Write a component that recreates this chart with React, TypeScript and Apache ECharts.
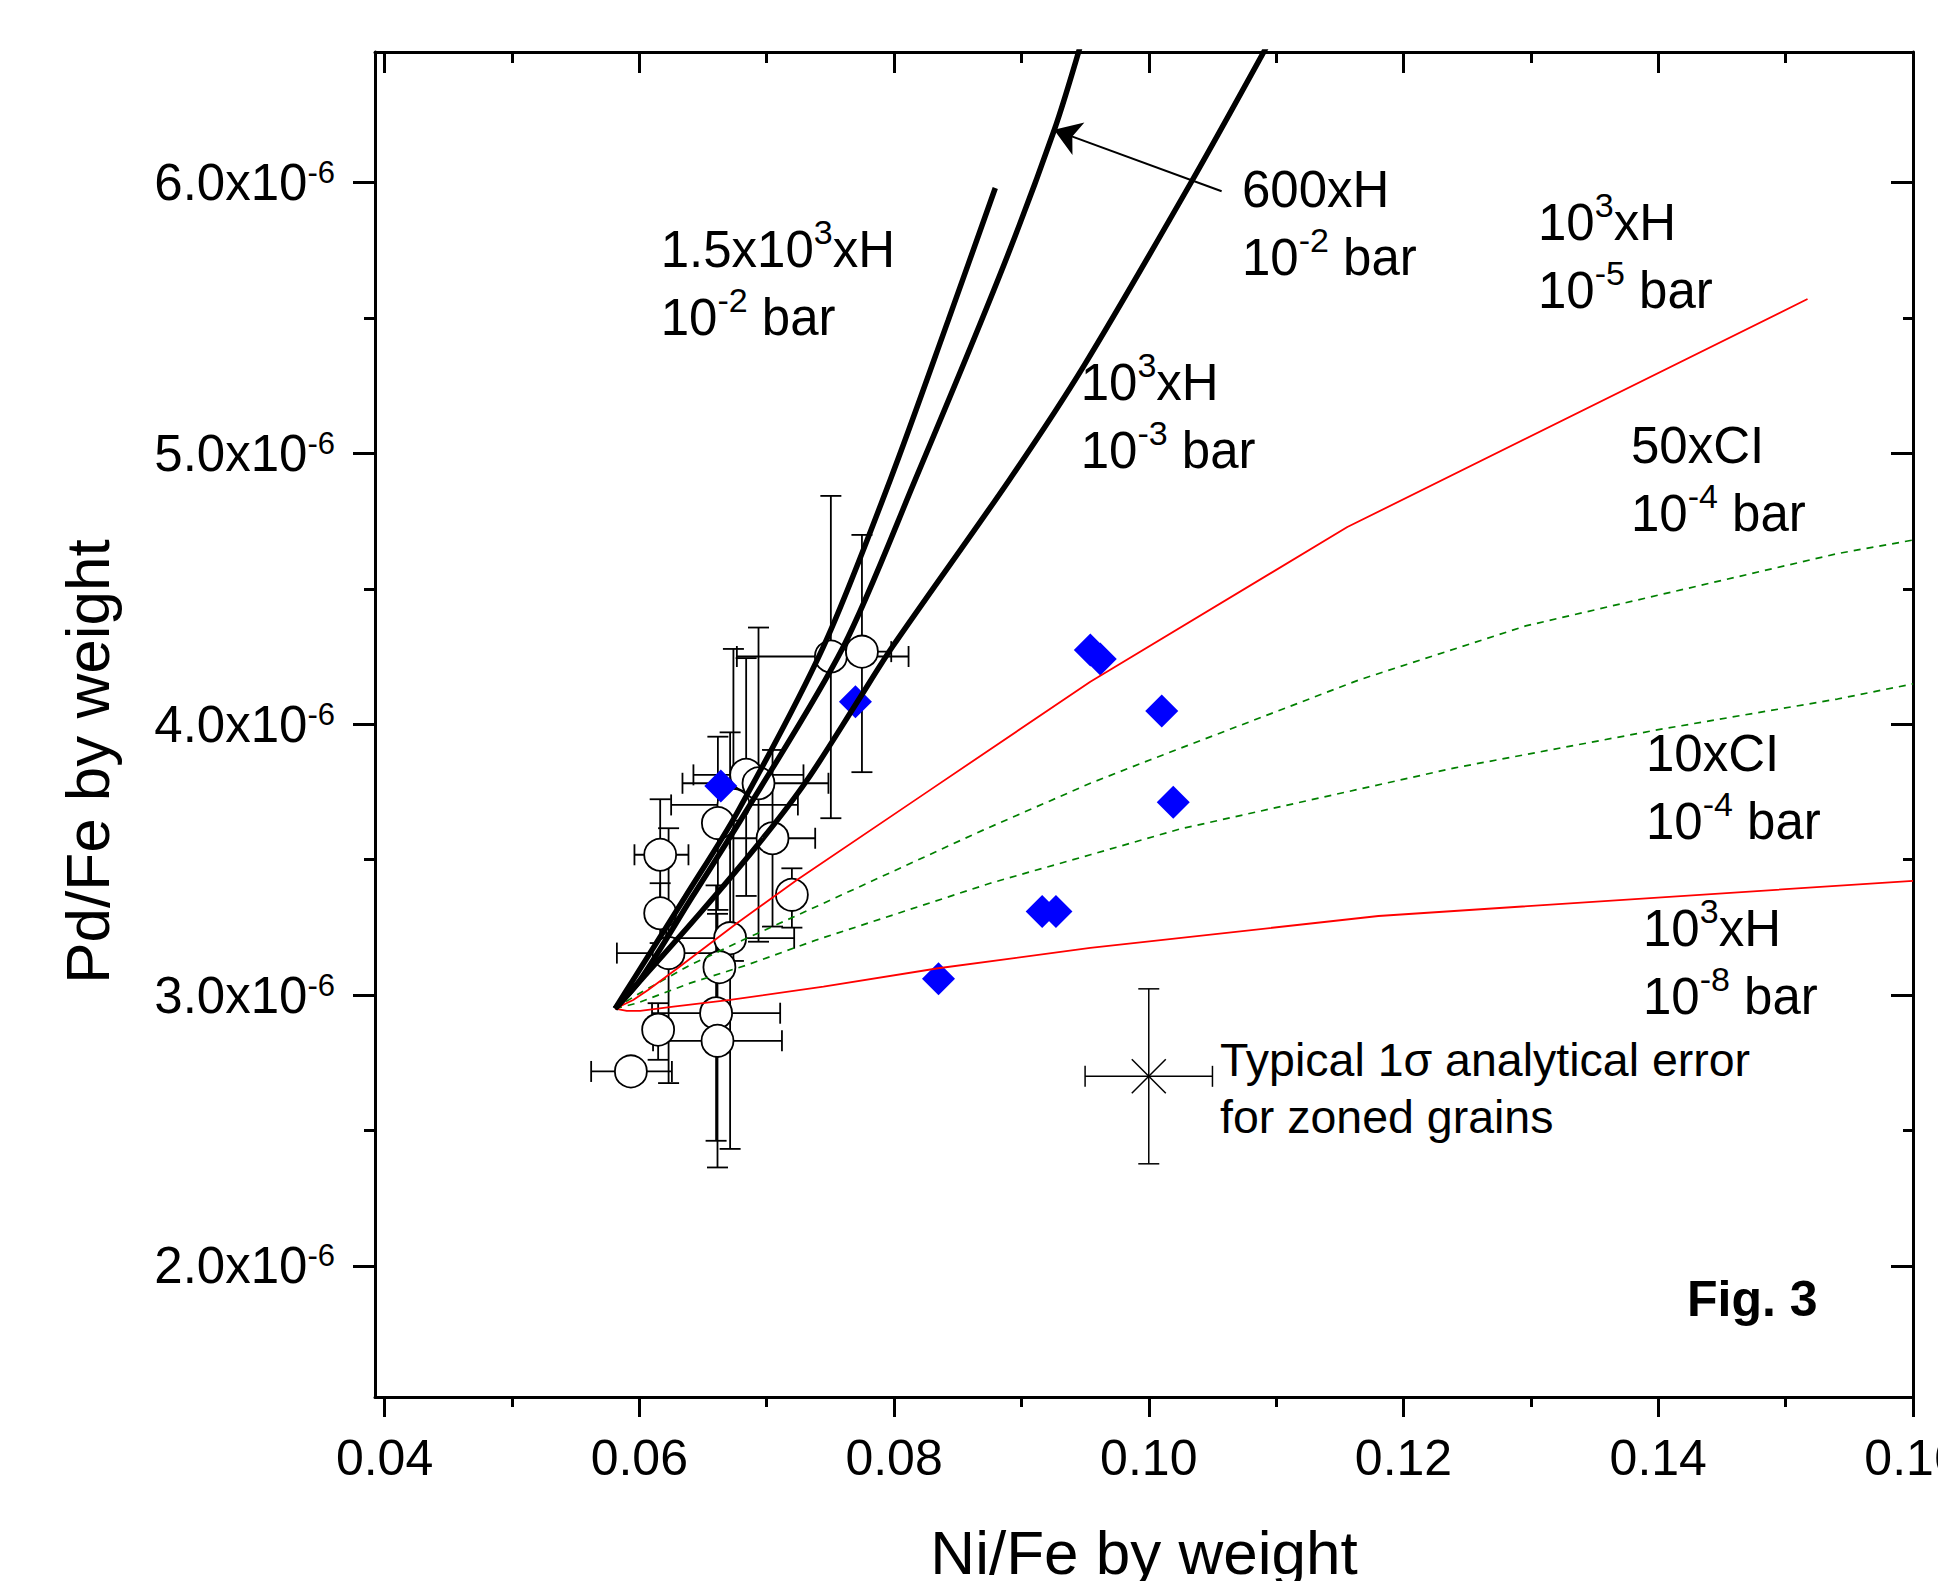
import React, { useEffect, useRef } from 'react';
import * as echarts from 'echarts';

// ---------- axes (Pd/Fe values are in units of 1e-6) ----------
const X_MIN = 0.03925;
const X_MAX = 0.16;
const Y_MIN = 1.516;
const Y_MAX = 6.482;
const X_MAJOR_TICKS = [0.04, 0.06, 0.08, 0.1, 0.12, 0.14, 0.16];
const X_MINOR_TICKS = [0.05, 0.07, 0.09, 0.11, 0.13, 0.15];
const Y_MAJOR_TICKS = [2, 3, 4, 5, 6];
const Y_MINOR_TICKS = [2.5, 3.5, 4.5, 5.5];

// ---------- open circles with error bars (bar ends; null = no bar) ----------
const CIRCLE_X = [0.07504, 0.07748, 0.06839, 0.06936, 0.06739, 0.06617, 0.07046, 0.06164, 0.07198, 0.06164, 0.0623, 0.06713, 0.06629, 0.06603, 0.06148, 0.06614, 0.05934];
const CIRCLE_Y = [4.25, 4.268, 3.813, 3.782, 3.702, 3.635, 3.579, 3.518, 3.37, 3.302, 3.155, 3.21, 3.103, 2.933, 2.872, 2.831, 2.718];
const CIRCLE_X_LO = [0.06766, 0.07518, 0.06425, 0.06339, 0.0625, null, 0.0671, 0.05962, null, null, 0.05824, 0.06211, null, 0.061, null, 0.06108, 0.05622];
const CIRCLE_X_HI = [0.08114, 0.07978, 0.07289, 0.07485, 0.07245, null, 0.07381, 0.06386, null, null, 0.06636, 0.07216, null, 0.07106, null, 0.0712, 0.06256];
const CIRCLE_Y_LO = [3.653, 3.823, 3.366, 3.197, 3.126, 3.3145, 3.253, 3.313, 3.249, 3.192, 2.675, 2.432, null, 2.462, 2.761, 2.3635, null];
const CIRCLE_Y_HI = [4.843, 4.699, 4.244, 4.357, 4.278, 3.954, 3.905, 3.723, 3.468, 3.413, 3.616, 3.97, null, 3.405, 2.97, 3.3, null];

// ---------- blue diamonds ----------
const DIAMOND_X = [0.0664, 0.07697, 0.09541, 0.09619, 0.10102, 0.10192, 0.09163, 0.09271, 0.08349];
const DIAMOND_Y = [3.772, 4.083, 4.274, 4.241, 4.049, 3.712, 3.309, 3.309, 3.06];

// ---------- model curves ----------
const CURVE_15E3H_1E2 = [[0.0581, 2.95], [0.05952, 3.056], [0.0636, 3.362], [0.06768, 3.673], [0.07444, 4.285], [0.0797, 4.902], [0.08426, 5.492], [0.08795, 5.98]];
const CURVE_600H_1E2 = [[0.0581, 2.95], [0.06007, 3.056], [0.06415, 3.362], [0.06831, 3.673], [0.07601, 4.285], [0.08166, 4.902], [0.08834, 5.662], [0.09258, 6.194], [0.0946, 6.5]];
const CURVE_1E3H_1E3 = [[0.0581, 2.95], [0.05873, 2.982], [0.06478, 3.303], [0.06973, 3.58], [0.07318, 3.794], [0.07711, 4.082], [0.07986, 4.285], [0.08905, 4.902], [0.09494, 5.326], [0.10334, 6.002], [0.1092, 6.497]];
const RED_50CI_1E4 = [[0.0581, 2.95], [0.05952, 2.982], [0.06069, 3.019], [0.06295, 3.097], [0.06766, 3.265], [0.07237, 3.425], [0.08232, 3.741], [0.09541, 4.157], [0.11559, 4.728], [0.15172, 5.57]];
const RED_1E3H_1E8 = [[0.0581, 2.95], [0.05902, 2.942], [0.06007, 2.942], [0.06268, 2.957], [0.06713, 2.982], [0.07446, 3.031], [0.08347, 3.099], [0.09541, 3.174], [0.11803, 3.292], [0.16, 3.422]];
const GREEN_UPPER = [[0.0581, 2.95], [0.05981, 3.001], [0.06399, 3.111], [0.06818, 3.204], [0.07446, 3.339], [0.08703, 3.61], [0.09541, 3.782], [0.10008, 3.868], [0.11653, 4.164], [0.12959, 4.363], [0.15407, 4.63], [0.16, 4.68]];
const GREEN_LOWER = [[0.0581, 2.95], [0.05981, 2.97], [0.06399, 3.044], [0.06845, 3.111], [0.07394, 3.204], [0.08755, 3.413], [0.09541, 3.518], [0.10243, 3.613], [0.12403, 3.839], [0.14001, 3.98], [0.15407, 4.093], [0.16, 4.149]];

// ---------- arrow and typical error ----------
const ARROW_FROM = [0.10572, 5.968];
const ARROW_TO = [0.09256, 6.1945];
const TYPICAL_X = [0.1];
const TYPICAL_Y = [2.7];
const TYPICAL_ERR_X = [0.005];
const TYPICAL_ERR_Y = [0.323];

const FONT = "'Liberation Sans', Arial, Helvetica, sans-serif";

const baseAxis = (min: number, max: number) => ({
  type: 'value',
  min,
  max,
  splitLine: { show: false },
  axisLine: { show: false, onZero: false },
  axisTick: { show: false },
  axisLabel: { show: false },
});

const lineStyleAxis = { color: '#000', width: 3 };

function renderErrorBars(params: any, api: any) {
  const x = api.value(0);
  const y = api.value(1);
  const xlo = api.value(2);
  const xhi = api.value(3);
  const ylo = api.value(4);
  const yhi = api.value(5);
  const c = api.coord([x, y]);
  const style = { stroke: '#000', lineWidth: 1.8, fill: 'none' };
  const cap = 10.5;
  const children: any[] = [];
  const seg = (x1: number, y1: number, x2: number, y2: number) =>
    children.push({ type: 'line', shape: { x1, y1, x2, y2 }, style });
  if (isFinite(ylo) && isFinite(yhi)) {
    const p1 = api.coord([x, ylo]);
    const p2 = api.coord([x, yhi]);
    seg(c[0], p1[1], c[0], p2[1]);
    seg(c[0] - cap, p1[1], c[0] + cap, p1[1]);
    seg(c[0] - cap, p2[1], c[0] + cap, p2[1]);
  }
  if (isFinite(xlo) && isFinite(xhi)) {
    const p1 = api.coord([xlo, y]);
    const p2 = api.coord([xhi, y]);
    seg(p1[0], c[1], p2[0], c[1]);
    seg(p1[0], c[1] - cap, p1[0], c[1] + cap);
    seg(p2[0], c[1] - cap, p2[0], c[1] + cap);
  }
  return { type: 'group', children };
}

function renderTypical(params: any, api: any) {
  const x = api.value(0);
  const y = api.value(1);
  const ex = api.value(2);
  const ey = api.value(3);
  const c = api.coord([x, y]);
  const top = api.coord([x, y + ey]);
  const bot = api.coord([x, y - ey]);
  const lft = api.coord([x - ex, y]);
  const rgt = api.coord([x + ex, y]);
  const style = { stroke: '#000', lineWidth: 1.5, fill: 'none' };
  const cap = 10.5;
  const s = 17;
  const l = (x1: number, y1: number, x2: number, y2: number) => ({ type: 'line', shape: { x1, y1, x2, y2 }, style });
  return {
    type: 'group',
    children: [
      l(c[0], top[1], c[0], bot[1]),
      l(c[0] - cap, top[1], c[0] + cap, top[1]),
      l(c[0] - cap, bot[1], c[0] + cap, bot[1]),
      l(lft[0], c[1], rgt[0], c[1]),
      l(lft[0], c[1] - cap, lft[0], c[1] + cap),
      l(rgt[0], c[1] - cap, rgt[0], c[1] + cap),
      l(c[0] - s, c[1] - s, c[0] + s, c[1] + s),
      l(c[0] - s, c[1] + s, c[0] + s, c[1] - s),
    ],
  };
}

const richMain = (size: number, lh: number) => ({ fontSize: size, lineHeight: lh, fontFamily: FONT, fill: '#000' });
const richSup = { fontSize: 34, lineHeight: 38, fontFamily: FONT, fill: '#000', verticalAlign: 'top' };

function annotation(x: number, y: number, text: string) {
  return {
    type: 'text',
    x,
    y,
    z: 10,
    style: {
      text,
      fontFamily: FONT,
      fontSize: 51,
      fill: '#000',
      align: 'left',
      verticalAlign: 'top',
      textAlign: 'left',
      textVerticalAlign: 'top',
      rich: { a: richMain(51, 68), b: richSup },
    },
  };
}

const lineSeries = (data: number[][], color: string, width: number, type: any, smooth: number | boolean) => ({
  type: 'line',
  data,
  xAxisIndex: 0,
  yAxisIndex: 0,
  showSymbol: false,
  symbol: 'none',
  smooth,
  clip: true,
  silent: true,
  lineStyle: { color, width, type },
});

const option: any = {
  animation: false,
  backgroundColor: '#fff',
  grid: { left: 375, top: 52, width: 1538, height: 1345, containLabel: false, outerBoundsMode: 'none' },
  xAxis: [
    {
      ...baseAxis(X_MIN, X_MAX),
      position: 'bottom',
      axisLine: { show: true, onZero: false, lineStyle: lineStyleAxis },
      axisTick: { show: true, inside: false, length: 20, lineStyle: lineStyleAxis, customValues: X_MAJOR_TICKS },
      axisLabel: {
        show: true,
        customValues: X_MAJOR_TICKS,
        formatter: (v: number) => Number(v).toFixed(2),
        fontSize: 50,
        lineHeight: 50,
        fontFamily: FONT,
        color: '#000',
        margin: 36,
        showMinLabel: true,
        showMaxLabel: true,
      },
      name: 'Ni/Fe by weight',
      nameLocation: 'middle',
      nameGap: 124.5,
      nameTextStyle: { fontSize: 62, lineHeight: 62, fontFamily: FONT, color: '#000' },
    },
    {
      ...baseAxis(X_MIN, X_MAX),
      position: 'bottom',
      axisTick: { show: true, inside: false, length: 10, lineStyle: lineStyleAxis, customValues: X_MINOR_TICKS },
    },
    {
      ...baseAxis(X_MIN, X_MAX),
      position: 'top',
      axisLine: { show: true, onZero: false, lineStyle: lineStyleAxis },
      axisTick: { show: true, inside: true, length: 21, lineStyle: lineStyleAxis, customValues: X_MAJOR_TICKS },
    },
    {
      ...baseAxis(X_MIN, X_MAX),
      position: 'top',
      axisTick: { show: true, inside: true, length: 11, lineStyle: lineStyleAxis, customValues: X_MINOR_TICKS },
    },
  ],
  yAxis: [
    {
      ...baseAxis(Y_MIN, Y_MAX),
      position: 'left',
      axisLine: { show: true, onZero: false, lineStyle: lineStyleAxis },
      axisTick: { show: true, inside: false, length: 22, lineStyle: lineStyleAxis, customValues: Y_MAJOR_TICKS },
      axisLabel: {
        show: true,
        customValues: Y_MAJOR_TICKS,
        formatter: (v: number) => `{a|${Number(v).toFixed(1)}x10}{b|-6}`,
        margin: 40,
        showMinLabel: true,
        showMaxLabel: true,
        rich: {
          a: { fontSize: 51, lineHeight: 51, fontFamily: FONT, color: '#000', verticalAlign: 'bottom' },
          b: { fontSize: 31, lineHeight: 38, padding: [0, 0, 22, 0], fontFamily: FONT, color: '#000', verticalAlign: 'top' },
        },
      },
      name: 'Pd/Fe by weight',
      nameLocation: 'middle',
      nameRotate: 90,
      nameGap: 256.5,
      nameTextStyle: { fontSize: 62, lineHeight: 62, fontFamily: FONT, color: '#000', padding: [0, 74, 0, 0] },
    },
    {
      ...baseAxis(Y_MIN, Y_MAX),
      position: 'left',
      axisTick: { show: true, inside: false, length: 11, lineStyle: lineStyleAxis, customValues: Y_MINOR_TICKS },
    },
    {
      ...baseAxis(Y_MIN, Y_MAX),
      position: 'right',
      axisLine: { show: true, onZero: false, lineStyle: lineStyleAxis },
      axisTick: { show: true, inside: true, length: 22, lineStyle: lineStyleAxis, customValues: Y_MAJOR_TICKS },
    },
    {
      ...baseAxis(Y_MIN, Y_MAX),
      position: 'right',
      axisTick: { show: true, inside: true, length: 10, lineStyle: lineStyleAxis, customValues: Y_MINOR_TICKS },
    },
  ],
  series: [
    {
      type: 'custom',
      name: 'error bars',
      xAxisIndex: 0,
      yAxisIndex: 0,
      silent: true,
      dimensions: ['x', 'y', 'xlo', 'xhi', 'ylo', 'yhi'],
      encode: { x: 0, y: 1 },
      renderItem: renderErrorBars,
      data: CIRCLE_X.map((x, i) => [x, CIRCLE_Y[i], CIRCLE_X_LO[i] ?? NaN, CIRCLE_X_HI[i] ?? NaN, CIRCLE_Y_LO[i] ?? NaN, CIRCLE_Y_HI[i] ?? NaN]),
    },
    {
      type: 'scatter',
      name: 'zoned grains',
      xAxisIndex: 0,
      yAxisIndex: 0,
      silent: true,
      symbol: 'circle',
      symbolSize: 32,
      itemStyle: { color: '#fff', borderColor: '#000', borderWidth: 1.8, opacity: 1 },
      data: CIRCLE_X.map((x, i) => [x, CIRCLE_Y[i]]),
    },
    {
      type: 'scatter',
      name: 'diamonds',
      xAxisIndex: 0,
      yAxisIndex: 0,
      silent: true,
      symbol: 'diamond',
      symbolSize: 33,
      itemStyle: { color: '#0000ff', opacity: 1 },
      data: DIAMOND_X.map((x, i) => [x, DIAMOND_Y[i]]),
    },
    lineSeries(GREEN_UPPER, '#008000', 1.7, [7, 6], false),
    lineSeries(GREEN_LOWER, '#008000', 1.7, [7, 6], false),
    lineSeries(RED_50CI_1E4, '#ff0000', 1.8, 'solid', false),
    lineSeries(RED_1E3H_1E8, '#ff0000', 1.8, 'solid', false),
    lineSeries(CURVE_15E3H_1E2, '#000', 5.5, 'solid', 0.3),
    lineSeries(CURVE_600H_1E2, '#000', 5.5, 'solid', 0.3),
    lineSeries(CURVE_1E3H_1E3, '#000', 5.5, 'solid', 0.3),
    {
      type: 'lines',
      coordinateSystem: 'cartesian2d',
      xAxisIndex: 0,
      yAxisIndex: 0,
      silent: true,
      z: 4,
      symbol: ['none', 'arrow'],
      symbolSize: 26,
      lineStyle: { color: '#000', width: 2, opacity: 1, curveness: 0 },
      data: [{ coords: [ARROW_FROM, ARROW_TO] }],
    },
    {
      type: 'custom',
      name: 'typical error',
      xAxisIndex: 0,
      yAxisIndex: 0,
      silent: true,
      dimensions: ['x', 'y', 'ex', 'ey'],
      encode: { x: 0, y: 1 },
      renderItem: renderTypical,
      data: TYPICAL_X.map((x, i) => [x, TYPICAL_Y[i], TYPICAL_ERR_X[i], TYPICAL_ERR_Y[i]]),
    },
  ],
  graphic: [
    annotation(660.7, 215.3, '{a|1.5x10}{b|3}{a|xH}\n{a|10}{b|-2}{a| bar}'),
    annotation(1242, 155.3, '{a|600xH}\n{a|10}{b|-2}{a| bar}'),
    annotation(1538, 188.3, '{a|10}{b|3}{a|xH}\n{a|10}{b|-5}{a| bar}'),
    annotation(1080.7, 348.3, '{a|10}{b|3}{a|xH}\n{a|10}{b|-3}{a| bar}'),
    annotation(1631, 411.3, '{a|50xCI}\n{a|10}{b|-4}{a| bar}'),
    annotation(1646, 719.3, '{a|10xCI}\n{a|10}{b|-4}{a| bar}'),
    annotation(1643, 894.1, '{a|10}{b|3}{a|xH}\n{a|10}{b|-8}{a| bar}'),
    {
      type: 'text',
      x: 1220,
      y: 1031.4,
      z: 10,
      style: {
        text: 'Typical 1σ analytical error\nfor zoned grains',
        fontFamily: FONT,
        fontSize: 46.5,
        lineHeight: 57,
        fill: '#000',
        align: 'left',
        verticalAlign: 'top',
        textAlign: 'left',
        textVerticalAlign: 'top',
      },
    },
    {
      type: 'text',
      x: 1687,
      y: 1274.4,
      z: 10,
      style: {
        text: 'Fig. 3',
        fontFamily: FONT,
        fontSize: 50,
        fontWeight: 'bold',
        lineHeight: 50,
        fill: '#000',
        align: 'left',
        verticalAlign: 'top',
        textAlign: 'left',
        textVerticalAlign: 'top',
      },
    },
  ],
};

export default function App() {
  const ref = useRef<HTMLDivElement>(null);
  useEffect(() => {
    if (!ref.current) return;
    const chart = echarts.init(ref.current, undefined, { renderer: 'svg' });
    chart.setOption(option);
    return () => {
      chart.dispose();
    };
  }, []);
  return (
    <div
      ref={ref}
      style={{ position: 'absolute', left: 0, top: 0, width: 1938, height: 1581, background: '#fff' }}
    />
  );
}
